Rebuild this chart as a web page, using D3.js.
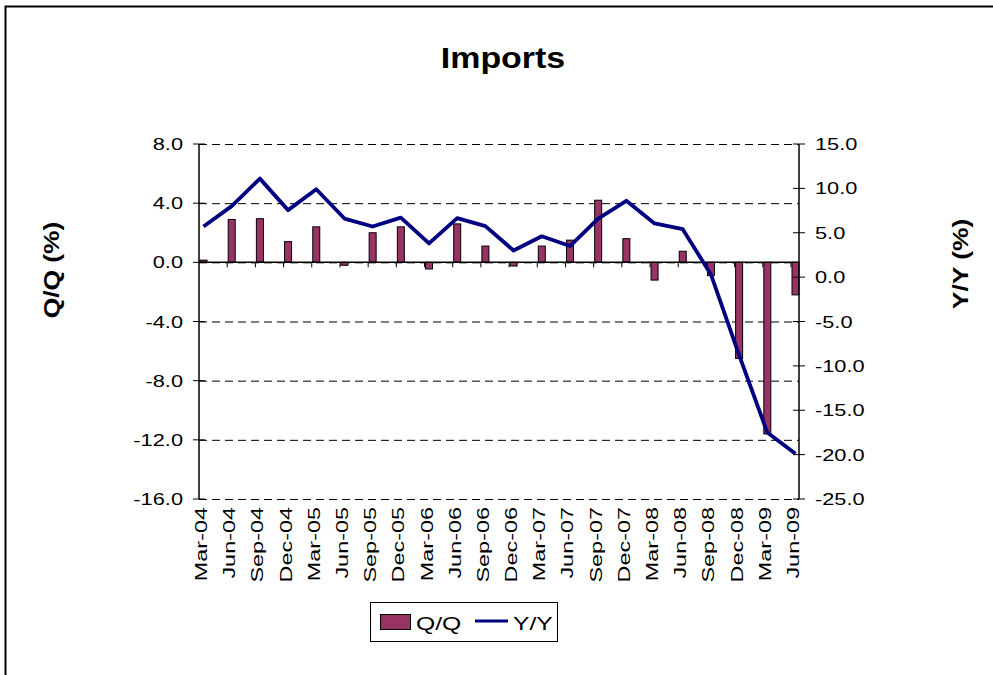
<!DOCTYPE html>
<html><head><meta charset="utf-8">
<script src="https://cdn.jsdelivr.net/npm/d3@7/dist/d3.min.js"></script>
<style>body{margin:0;background:#fff}svg{display:block}text{font-family:Arial,"Liberation Sans",sans-serif}</style>
</head><body>
<svg id="c" width="993" height="675"></svg>
<script>
const categories = ["Mar-04","Jun-04","Sep-04","Dec-04","Mar-05","Jun-05","Sep-05","Dec-05","Mar-06","Jun-06","Sep-06","Dec-06","Mar-07","Jun-07","Sep-07","Dec-07","Mar-08","Jun-08","Sep-08","Dec-08","Mar-09","Jun-09"];
const qq = [0.15,2.9,2.95,1.4,2.4,-0.2,2.0,2.4,-0.45,2.6,1.1,-0.25,1.1,1.5,4.2,1.6,-1.2,0.75,-0.9,-6.5,-11.6,-2.2];
const yy = [5.7,8.0,11.1,7.55,9.9,6.6,5.7,6.7,3.8,6.65,5.75,3.0,4.6,3.5,6.6,8.6,6.05,5.4,0.3,-8.8,-17.5,-19.9];
const leftTicks = [8,4,0,-4,-8,-12,-16];
const rightTicks = [15,10,5,0,-5,-10,-15,-20,-25];
const title = "Imports";

const svg = d3.select("#c");
const plotL = 199, plotR = 799, plotT = 144, plotB = 499;
const yL = d3.scaleLinear().domain([-16, 8]).range([plotB, plotT]);
const yR = d3.scaleLinear().domain([-25, 15]).range([plotB, plotT]);
const x = d3.scalePoint().domain(categories).range([203.5, 795.5]);
const SX = 1.32; // horizontal stretch of the text

function txt(g, tx, ty, rot, str, size, anchor, bold, sx) {
  return g.append("text")
    .attr("transform", `translate(${tx},${ty})` + (rot ? ` rotate(${rot})` : "") + ` scale(${sx||SX},1)`)
    .attr("text-anchor", anchor).attr("font-size", size)
    .attr("font-weight", bold ? "bold" : "normal").text(str);
}

// outer border
svg.append("path").attr("d","M5.5,675 V6.5 H993").attr("fill","none").attr("stroke","#000").attr("stroke-width",2);

// title
txt(svg, 503, 68, 0, title, 29, "middle", true, 1.17);

// gridlines
svg.append("g").selectAll("line").data(leftTicks).join("line")
  .attr("x1",plotL).attr("x2",plotR).attr("y1",d=>yL(d)+0.5).attr("y2",d=>yL(d)+0.5)
  .attr("stroke","#000").attr("stroke-width",1).attr("stroke-dasharray","8,5");

// bars
svg.append("g").selectAll("rect").data(categories).join("rect")
  .attr("x",(c)=>x(c)-3.5).attr("width",7)
  .attr("y",(c,i)=>yL(Math.max(0,qq[i]))).attr("height",(c,i)=>Math.abs(yL(qq[i])-yL(0)))
  .attr("fill","#993366").attr("stroke","#000").attr("stroke-width",1);

// category axis at zero
const gx = svg.append("g").attr("transform",`translate(0,${yL(0)})`);
gx.append("line").attr("x1",plotL).attr("x2",plotR).attr("stroke","#000").attr("stroke-width",1.5);
gx.selectAll("line.t").data(categories.slice(1)).join("line").attr("class","t")
  .attr("x1",c=>x(c)-4.5).attr("x2",c=>x(c)-4.5).attr("y1",0).attr("y2",5)
  .attr("stroke","#000").attr("stroke-width",1);

// category labels
const gc = svg.append("g");
categories.forEach(c => txt(gc, x(c)+3.5, 507, -90, c, 16.5, "end", false, 1.42));

// left axis
const gl = svg.append("g");
gl.append("line").attr("x1",plotL).attr("x2",plotL).attr("y1",plotT).attr("y2",plotB).attr("stroke","#000").attr("stroke-width",1.5);
gl.selectAll("line.t").data(leftTicks).join("line").attr("class","t")
  .attr("x1",plotL-6).attr("x2",plotL+6).attr("y1",d=>yL(d)).attr("y2",d=>yL(d)).attr("stroke","#000");
leftTicks.forEach(d => txt(gl, 183, yL(d)+6, 0, d.toFixed(1), 16.5, "end", false));

// right axis
const gr = svg.append("g");
gr.append("line").attr("x1",plotR).attr("x2",plotR).attr("y1",plotT).attr("y2",plotB).attr("stroke","#000").attr("stroke-width",1.5);
gr.selectAll("line.t").data(rightTicks).join("line").attr("class","t")
  .attr("x1",plotR-6).attr("x2",plotR+6).attr("y1",d=>yR(d)).attr("y2",d=>yR(d)).attr("stroke","#000");
rightTicks.forEach(d => txt(gr, 815, yR(d)+6, 0, d.toFixed(1), 16.5, "start", false));

// line
const line = d3.line().x((d,i)=>x(categories[i])).y(d=>yR(d));
svg.append("path").datum(yy).attr("d",line).attr("fill","none")
  .attr("stroke","#000080").attr("stroke-width",3.8).attr("stroke-linejoin","round");

// axis titles
txt(svg, 59, 270, -90, "Q/Q (%)", 22, "middle", true, 1.2);
txt(svg, 968, 264, -90, "Y/Y (%)", 22, "middle", true, 1.2);

// legend
const lg = svg.append("g");
lg.append("rect").attr("x",370.5).attr("y",602.5).attr("width",187).attr("height",39)
  .attr("fill","#fff").attr("stroke","#000");
lg.append("rect").attr("x",380.5).attr("y",614.5).attr("width",30).attr("height",15)
  .attr("fill","#993366").attr("stroke","#000");
txt(lg, 416, 630, 0, "Q/Q", 19, "start", false, 1.3);
lg.append("line").attr("x1",475).attr("x2",508).attr("y1",621).attr("y2",621)
  .attr("stroke","#000080").attr("stroke-width",3);
txt(lg, 513, 630, 0, "Y/Y", 19, "start", false, 1.3);
</script>
</body></html>
